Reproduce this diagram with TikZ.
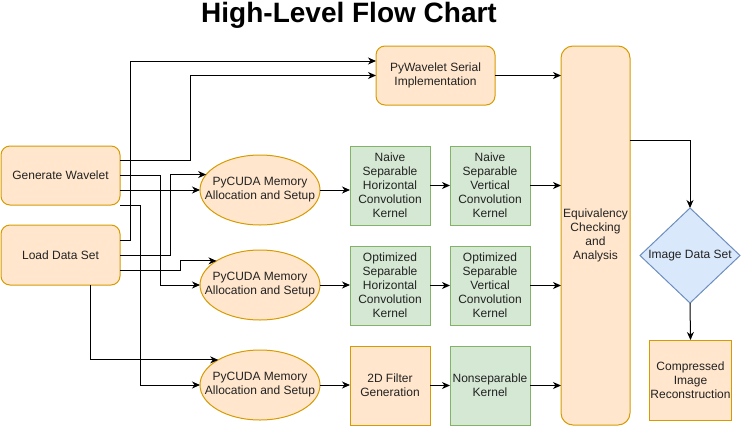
\documentclass[tikz,border=0pt]{standalone}
\usepackage{fontspec}
\setmainfont{Liberation Sans}
\usetikzlibrary{arrows.meta,shapes.geometric}
\definecolor{ofill}{HTML}{FFE6CC}
\definecolor{odraw}{HTML}{D79B00}
\definecolor{gfill}{HTML}{D5E8D4}
\definecolor{gdraw}{HTML}{82B366}
\definecolor{bfill}{HTML}{DAE8FC}
\definecolor{bdraw}{HTML}{6C8EBF}
\definecolor{txt}{HTML}{222222}
\tikzset{
  base/.style={line width=1pt, inner sep=1pt, outer sep=0pt, align=center, text=txt,
    font=\fontsize{12}{14}\selectfont},
  obox/.style={base, draw=odraw, fill=ofill, rounded corners=9pt},
  osq/.style={base, draw=odraw, fill=ofill},
  gbox/.style={base, draw=gdraw, fill=gfill, minimum width=80pt, minimum height=79pt},
  oell/.style={base, ellipse, draw=odraw, fill=ofill, inner sep=0pt, minimum width=120pt, minimum height=70pt},
  bdia/.style={base, diamond, draw=bdraw, fill=bfill, inner sep=0pt},
  arr/.style={line width=1pt, -{Stealth[length=8pt,width=7pt,inset=2.5pt]}},
}
\begin{document}
\begin{tikzpicture}[x=1pt,y=-1pt]
\useasboundingbox (0,0) rectangle (741,426);
\node[anchor=base, text=black, font=\fontsize{28}{32}\selectfont\bfseries] (title) at (349,22) {High-Level Flow Chart};

\node[obox, minimum width=119pt, minimum height=59pt] (gw) at (60.5,175.5) {Generate Wavelet};
\node[obox, minimum width=119pt, minimum height=60pt] (lds) at (60.5,255) {Load Data Set};
\node[obox, minimum width=119pt, minimum height=59pt] (pyw) at (435.5,75.5) {PyWavelet Serial\\Implementation};
\node[obox, rounded corners=12pt, minimum width=69pt, minimum height=379pt] (eq) at (595.5,235.5) {Equivalency\\Checking\\and\\Analysis};

\node[oell, label={[base]center:PyCUDA Memory\\Allocation and Setup}] (e1) at (260,190) {};
\node[oell, label={[base]center:PyCUDA Memory\\Allocation and Setup}] (e2) at (260,285) {};
\node[oell, label={[base]center:PyCUDA Memory\\Allocation and Setup}] (e3) at (260,385) {};

\node[gbox] (nh) at (390,185.5) {Naive\\Separable\\Horizontal\\Convolution\\Kernel};
\node[gbox] (nv) at (490,185.5) {Naive\\Separable\\Vertical\\Convolution\\Kernel};
\node[gbox] (oh) at (390,285.5) {Optimized\\Separable\\Horizontal\\Convolution\\Kernel};
\node[gbox] (ov) at (490,285.5) {Optimized\\Separable\\Vertical\\Convolution\\Kernel};
\node[osq, minimum width=80pt, minimum height=79pt] (f2d) at (390,385.5) {2D Filter\\Generation};
\node[gbox] (ns) at (490,385.5) {Nonseparable\\Kernel};

\node[bdia, minimum width=100pt, minimum height=95pt, label={[base]center:Image Data Set}] (ds) at (690,255.5) {};
\node[osq, minimum width=81pt, minimum height=80pt] (cr) at (690.5,380) {Compressed\\Image\\Reconstruction};

\coordinate (X90) at (90,0);
\coordinate (X130) at (130,0);
\coordinate (X140) at (140,0);
\coordinate (X160) at (160,0);
\coordinate (X170) at (170,0);
\coordinate (X180) at (180,0);
\coordinate (X190) at (190,0);
\coordinate (Y61) at (0,61);
\coordinate (Y140) at (0,140);
\coordinate (Y160) at (0,160);
\coordinate (Y175) at (0,175);
\coordinate (Y240) at (0,240);
\coordinate (Y255) at (0,255);
\coordinate (Y270) at (0,270);

% right part
\draw[arr] (eq.east |- Y140) -| (ds.north);
\draw[arr] (ds.south) -- (cr.north);
\draw[arr] (pyw.east) -- (eq.west |- pyw.east);
\draw[arr] (nv.east) -- (eq.west |- nv.east);
\draw[arr] (ov.east) -- (eq.west |- ov.east);
\draw[arr] (ns.east) -- (eq.west |- ns.east);
\draw[arr] (nh.east) -- (nv.west);
\draw[arr] (oh.east) -- (ov.west);
\draw[arr] (f2d.east) -- (ns.west);
\draw[arr] (e1.east) -- (nh.west |- e1.east);
\draw[arr] (e2.east) -- (oh.west |- e2.east);
\draw[arr] (e3.east) -- (f2d.west |- e3.east);

% left part
\draw[arr] (gw.east |- Y160) -- (X190 |- Y160) |- (pyw.west);
\draw[arr] (lds.east |- Y240) -- (X130 |- Y240) |- (pyw.west |- Y61);
\draw[arr] (gw.east |- Y175) -- (X160 |- Y175) |- (e2.west);
\draw[arr] (gw.east |- e1.west) -- (e1.west);
\draw[arr] (gw.south east) -- (X140 |- gw.south east) |- (e3.west);
\draw[arr] (lds.east |- Y255) -- (X170 |- Y255) |- (e1.164.5);
\draw[arr] (lds.east |- Y270) -- (X180 |- Y270) |- (e2.151);
\draw[arr] (lds.south -| X90) |- (e3.149.2);
\end{tikzpicture}
\end{document}
